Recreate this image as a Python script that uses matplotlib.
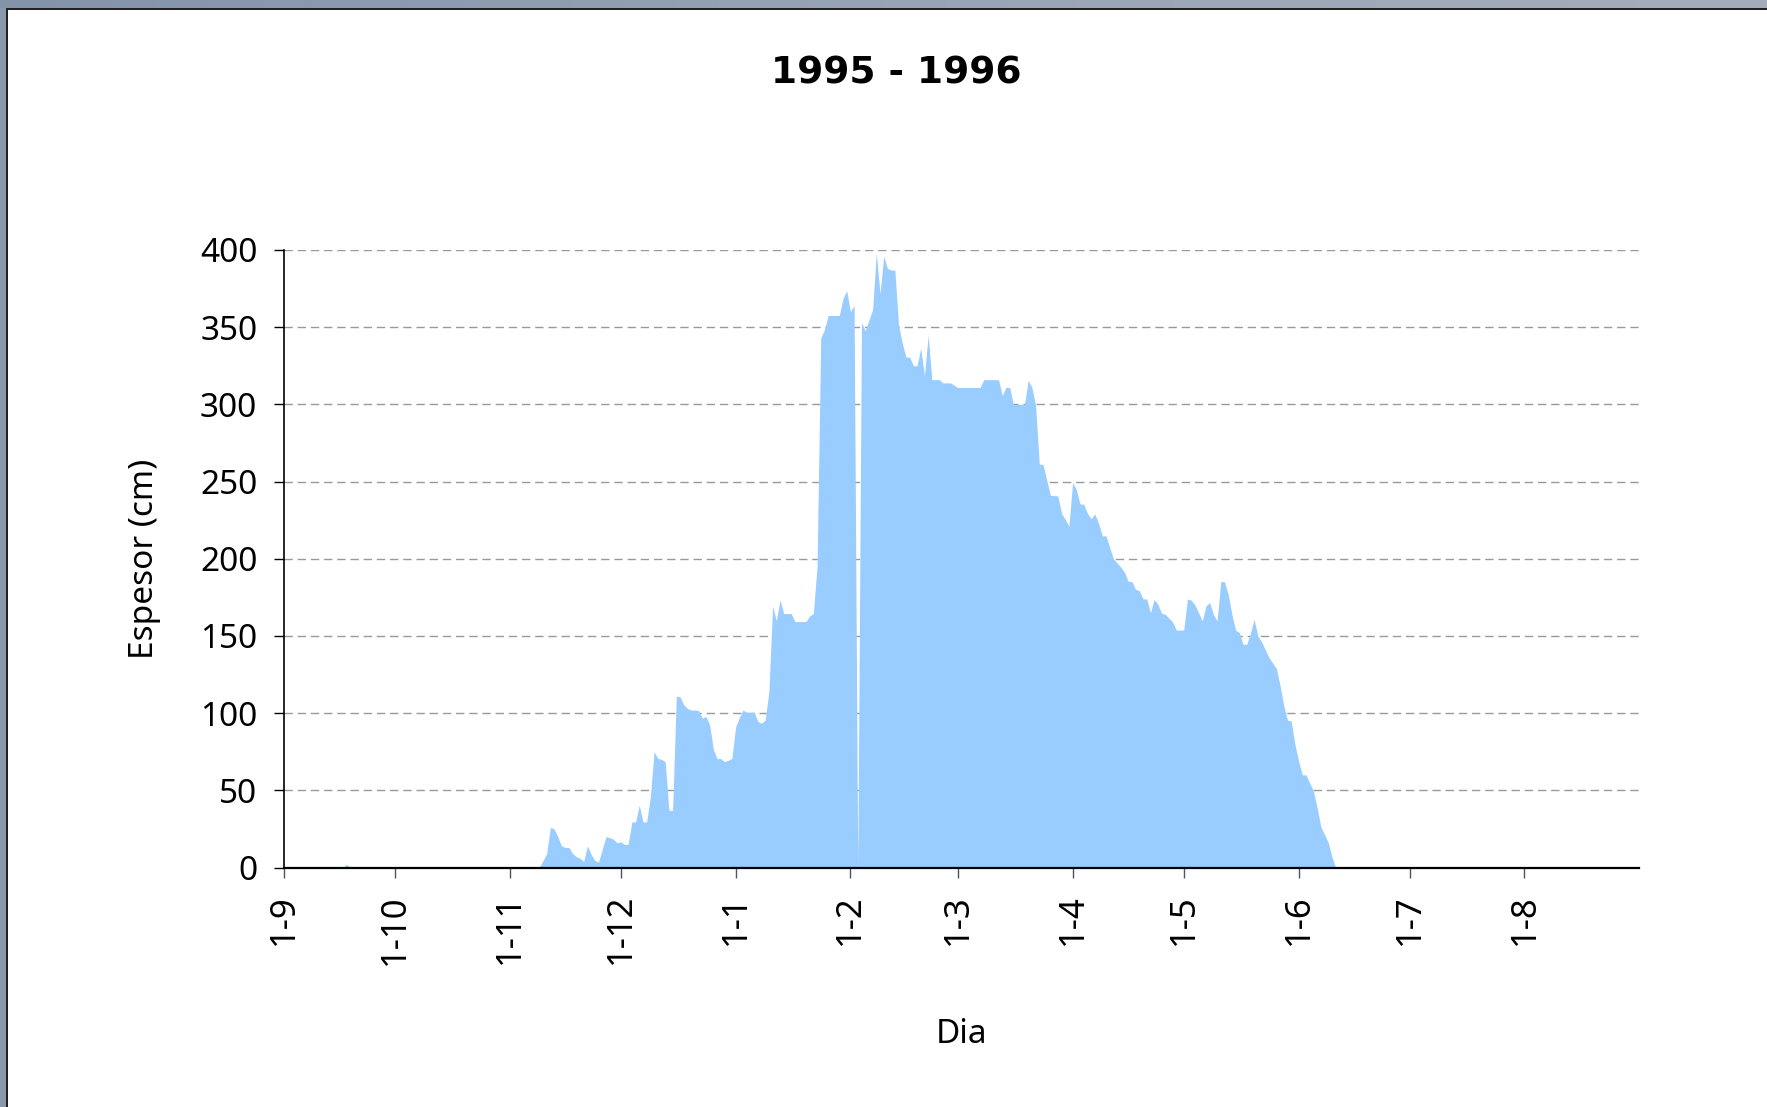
import numpy as np
import pandas as pd
import matplotlib
matplotlib.use('Agg')
import matplotlib.pyplot as plt
from matplotlib.patches import Rectangle
from matplotlib.colors import LinearSegmentedColormap

matplotlib.rc('font', family='Noto Sans', size=24)

# espesor de nieve por dia, temporada 1995 - 1996
fechas = [
    '1995-09-01', '1995-09-17', '1995-09-18', '1995-09-19', '1995-11-09',
    '1995-11-11', '1995-11-12', '1995-11-13', '1995-11-14', '1995-11-15',
    '1995-11-16', '1995-11-17', '1995-11-18', '1995-11-19', '1995-11-20',
    '1995-11-21', '1995-11-22', '1995-11-23', '1995-11-24', '1995-11-25',
    '1995-11-27', '1995-11-28', '1995-11-29', '1995-11-30', '1995-12-01',
    '1995-12-02', '1995-12-03', '1995-12-04', '1995-12-05', '1995-12-06',
    '1995-12-07', '1995-12-08', '1995-12-09', '1995-12-10', '1995-12-11',
    '1995-12-12', '1995-12-13', '1995-12-14', '1995-12-15', '1995-12-16',
    '1995-12-17', '1995-12-18', '1995-12-19', '1995-12-20', '1995-12-21',
    '1995-12-22', '1995-12-23', '1995-12-24', '1995-12-25', '1995-12-26',
    '1995-12-27', '1995-12-28', '1995-12-29', '1995-12-30', '1995-12-31',
    '1996-01-01', '1996-01-02', '1996-01-03', '1996-01-04', '1996-01-06',
    '1996-01-07', '1996-01-08', '1996-01-09', '1996-01-10', '1996-01-11',
    '1996-01-12', '1996-01-13', '1996-01-14', '1996-01-16', '1996-01-17',
    '1996-01-20', '1996-01-21', '1996-01-22', '1996-01-23', '1996-01-24',
    '1996-01-25', '1996-01-26', '1996-01-29', '1996-01-30', '1996-01-31',
    '1996-02-01', '1996-02-02', '1996-02-03', '1996-02-04', '1996-02-05',
    '1996-02-07', '1996-02-08', '1996-02-09', '1996-02-10', '1996-02-11',
    '1996-02-12', '1996-02-13', '1996-02-14', '1996-02-15', '1996-02-16',
    '1996-02-17', '1996-02-18', '1996-02-19', '1996-02-20', '1996-02-21',
    '1996-02-22', '1996-02-23', '1996-02-25', '1996-02-26', '1996-02-28',
    '1996-03-01', '1996-03-07', '1996-03-08', '1996-03-12', '1996-03-13',
    '1996-03-14', '1996-03-15', '1996-03-16', '1996-03-19', '1996-03-20',
    '1996-03-21', '1996-03-22', '1996-03-23', '1996-03-24', '1996-03-26',
    '1996-03-28', '1996-03-29', '1996-03-30', '1996-03-31', '1996-04-01',
    '1996-04-02', '1996-04-03', '1996-04-04', '1996-04-05', '1996-04-06',
    '1996-04-07', '1996-04-08', '1996-04-09', '1996-04-10', '1996-04-12',
    '1996-04-14', '1996-04-15', '1996-04-16', '1996-04-17', '1996-04-18',
    '1996-04-19', '1996-04-20', '1996-04-21', '1996-04-22', '1996-04-23',
    '1996-04-24', '1996-04-25', '1996-04-26', '1996-04-28', '1996-04-29',
    '1996-05-01', '1996-05-02', '1996-05-03', '1996-05-04', '1996-05-06',
    '1996-05-07', '1996-05-08', '1996-05-09', '1996-05-10', '1996-05-11',
    '1996-05-12', '1996-05-13', '1996-05-14', '1996-05-15', '1996-05-16',
    '1996-05-17', '1996-05-18', '1996-05-19', '1996-05-20', '1996-05-21',
    '1996-05-22', '1996-05-24', '1996-05-26', '1996-05-27', '1996-05-28',
    '1996-05-29', '1996-05-30', '1996-05-31', '1996-06-01', '1996-06-02',
    '1996-06-03', '1996-06-05', '1996-06-06', '1996-06-07', '1996-06-09',
    '1996-06-10', '1996-06-11', '1996-08-31',
]
espesor = [
    0, 0, 2, 0, 0,
    9, 26, 25, 20, 14,
    13, 13, 9, 7, 6,
    4, 14, 8.5, 4.6, 3.5,
    20, 19.4, 18.3, 16, 16.6,
    15, 15, 29.5, 29.5, 40.4,
    29.5, 29.5, 46, 75, 70.7,
    70, 68.6, 37, 37, 111,
    110.5, 105.5, 103, 102, 102,
    101.7, 96.7, 97.8, 92.4, 76.6,
    70.5, 70.5, 68.6, 69.4, 70.7,
    90.8, 97, 102, 100.5, 100.5,
    94.7, 93.4, 95.5, 114, 169.4,
    159.8, 173.3, 164.5, 164.5, 159.3,
    159.3, 163, 164.5, 195, 343,
    348.5, 357.6, 357.6, 368.5, 373.7,
    360, 364, 0, 353, 347.7,
    361.4, 398, 371.7, 396, 388,
    387, 387, 351.4, 339.6, 330.6,
    330.6, 325, 325, 336.4, 318.6,
    344.9, 316, 316, 313.9, 313.9,
    310.9, 310.9, 316, 316, 305.7,
    311, 311, 300, 300, 315.6,
    311, 299.5, 261.4, 261, 241,
    240.7, 229.4, 225.5, 221, 249.5,
    244.7, 235.5, 235.3, 229.4, 226,
    229, 223, 214.8, 214.8, 200,
    194.6, 191.3, 185.4, 185.2, 180.2,
    179.3, 174, 174, 165, 173.6,
    170.6, 164.7, 164, 159, 153.8,
    153.8, 173.9, 173.2, 170.2, 159.7,
    169.5, 171.6, 164, 159.7, 185.2,
    185.2, 177, 164, 153.7, 152.2,
    144.6, 144.6, 151.7, 160.8, 150,
    146.3, 136, 129, 118, 105,
    95.4, 95, 80, 69, 60,
    60, 49.6, 38.9, 26.5, 16.2,
    7, 0, 0,
]
meses = ['1995-09-01', '1995-10-01', '1995-11-01', '1995-12-01', '1996-01-01',
         '1996-02-01', '1996-03-01', '1996-04-01', '1996-05-01', '1996-06-01',
         '1996-07-01', '1996-08-01']
etiquetas = ['1-9', '1-10', '1-11', '1-12', '1-1', '1-2', '1-3', '1-4',
             '1-5', '1-6', '1-7', '1-8']

x = pd.to_datetime(fechas)
W, H = 1767, 1107

fig = plt.figure(figsize=(W / 100, H / 100), dpi=100)
ax = fig.add_axes([283.7 / W, 1 - 867.5 / H, (1639.3 - 283.7) / W, (867.5 - 250) / H])

ax.fill_between(x, espesor, 0, color='#99CCFF', lw=0, zorder=2)

ax.set_xlim(pd.Timestamp('1995-09-01'), pd.Timestamp('1996-09-01'))
ax.set_ylim(0, 400)
ax.set_yticks(np.arange(0, 401, 50))
ax.set_xticks(pd.to_datetime(meses))
ax.set_xticklabels(etiquetas, rotation=90, fontsize=25)

ax.yaxis.grid(True, linestyle=(0, (6, 3.5)), color='#999999', lw=1)
ax.set_axisbelow(True)

for s in ['top', 'right']:
    ax.spines[s].set_visible(False)
ax.spines['left'].set_linewidth(1.2)
ax.spines['bottom'].set_linewidth(1.6)
ax.tick_params(axis='y', direction='out', length=7, width=1, pad=12)
ax.tick_params(axis='x', direction='out', length=7, width=1, color='#555555', pad=12)

ax.set_xlabel('Dia')
ax.xaxis.set_label_coords(0.5, -0.244)
ax.set_ylabel('Espesor (cm)')
ax.yaxis.set_label_coords(-0.0905, 0.5)
fig.text(896 / W, 1 - 73 / H, '1995 - 1996', ha='center', va='center',
         fontsize=27, fontweight='bold', family='DejaVu Sans')

# marco de la ventana
bar = fig.add_axes([0, 1 - 8 / H, 1, 8 / H])
cmap = LinearSegmentedColormap.from_list('marco', ['#8393AA', '#98A4B6', '#A6ADBA'])
bar.imshow(np.linspace(0, 1, 256).reshape(1, -1), aspect='auto', cmap=cmap)
bar.set_axis_off()
fig.add_artist(Rectangle((0, 1 - 10 / H), 1, 2 / H, transform=fig.transFigure,
                         color='#222222', lw=0))
fig.add_artist(Rectangle((0, 0), 6 / W, 1 - 8 / H, transform=fig.transFigure,
                         color='#8A98AC', lw=0))
fig.add_artist(Rectangle((6 / W, 0), 2 / W, 1 - 8 / H, transform=fig.transFigure,
                         color='#222222', lw=0))

fig.savefig('out.png', dpi=100)
